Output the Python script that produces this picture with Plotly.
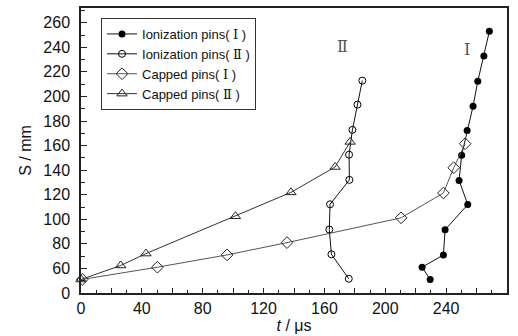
import plotly.graph_objects as go

# Display-axis values (the y axis is broken: label "0" sits at 40, then 60..260)
ion1_t = [229.5, 224.2, 238.2, 239.3, 254.2, 248.5, 250.2, 253.8, 257.7, 260.8, 264.8, 268.4]
ion1_s = [51, 61, 71, 91.5, 112, 131.6, 152.2, 172.3, 192, 212.4, 233, 253]

ion2_t = [176.0, 164.6, 163.2, 163.7, 176.4, 176.2, 178.4, 181.7, 184.9]
ion2_s = [51.6, 71.5, 91.7, 112.2, 132.1, 152.6, 172.8, 193.3, 212.9]

cap1_t = [0.9, 50.2, 96.0, 135.4, 210.4, 238.2, 245.0, 252.5]
cap1_s = [51.1, 61, 71, 81, 101.2, 121.4, 142, 161.5]

cap2_t = [0.0, 26.1, 42.7, 101.5, 138.0, 167.0, 176.9]
cap2_s = [51, 62.4, 72.1, 102.5, 121.9, 142.6, 163]

x_ticks = [0, 20, 40, 60, 80, 100, 120, 140, 160, 180, 200, 220, 240, 260, 280]
x_text = ["0", "", "40", "", "80", "", "120", "", "160", "", "200", "", "240", "", "280"]
y_ticks = [40, 60, 80, 100, 120, 140, 160, 180, 200, 220, 240, 260]
y_text = ["0", "60", "80", "100", "120", "140", "160", "180", "200", "220", "240", "260"]

SERIF = "DejaVu Serif"
R = lambda s: '\u00a0<span style="font-family:%s">%s</span>\u00a0' % (SERIF, s)

fig = go.Figure()
fig.add_trace(go.Scatter(x=ion1_t, y=ion1_s, mode="lines+markers", cliponaxis=False,
                         name="Ionization pins(" + R("Ⅰ") + ")",
                         line=dict(color="#111", width=1),
                         marker=dict(symbol="circle", size=7, color="black")))
fig.add_trace(go.Scatter(x=ion2_t, y=ion2_s, mode="lines+markers", cliponaxis=False,
                         name="Ionization pins(" + R("Ⅱ") + ")",
                         line=dict(color="#111", width=1),
                         marker=dict(symbol="circle-open", size=7, color="black", line=dict(width=1))))
fig.add_trace(go.Scatter(x=cap1_t, y=cap1_s, mode="lines+markers", cliponaxis=False,
                         name="Capped pins(" + R("Ⅰ") + ")",
                         line=dict(color="#555", width=1),
                         marker=dict(symbol="diamond-open", size=9, color="#222", line=dict(width=1))))
fig.add_trace(go.Scatter(x=cap2_t, y=cap2_s, mode="lines+markers", cliponaxis=False,
                         name="Capped pins(" + R("Ⅱ") + ")",
                         line=dict(color="#333", width=1),
                         marker=dict(symbol="triangle-up-open", size=9, color="#222", line=dict(width=1))))

fig.add_annotation(x=172, y=240.5, text="Ⅱ", showarrow=False,
                   font=dict(family=SERIF, size=16, color="#555"))
fig.add_annotation(x=254, y=238, text="Ⅰ", showarrow=False,
                   font=dict(family=SERIF, size=16, color="#555"))

axis_common = dict(showline=True, linecolor="#222", linewidth=1.5, mirror=True,
                   ticks="inside", tickcolor="#222", showgrid=False, zeroline=False,
                   tickfont=dict(family="Liberation Sans", size=16, color="#111"))

fig.update_xaxes(range=[0, 280], tickmode="array", tickvals=x_ticks, ticktext=x_text,
                 ticklen=5, tickwidth=1,
                 minor=dict(ticks="inside", dtick=10, ticklen=3, tickcolor="#222"),
                 title=dict(text="<i>t</i> / μs", font=dict(family="Liberation Sans", size=16, color="#111"),
                            standoff=2),
                 **axis_common)
fig.update_yaxes(range=[40, 272], tickmode="array", tickvals=y_ticks, ticktext=y_text,
                 ticklen=6, tickwidth=1, ticklabelstandoff=6,
                 minor=dict(ticks="inside", dtick=10, ticklen=4, tickcolor="#222"),
                 title=dict(text="S / mm", font=dict(family="Liberation Sans", size=16, color="#111"),
                            standoff=8),
                 **axis_common)

fig.update_layout(
    width=518, height=336,
    margin=dict(l=81, r=11, t=6, b=43),
    plot_bgcolor="white", paper_bgcolor="white",
    showlegend=True,
    legend=dict(x=0.047, y=0.965, xanchor="left", yanchor="top",
                bordercolor="#333", borderwidth=1, bgcolor="white",
                itemwidth=30, tracegroupgap=0,
                font=dict(family="Liberation Sans", size=13, color="#111")),
)

fig.write_html("out.html")
